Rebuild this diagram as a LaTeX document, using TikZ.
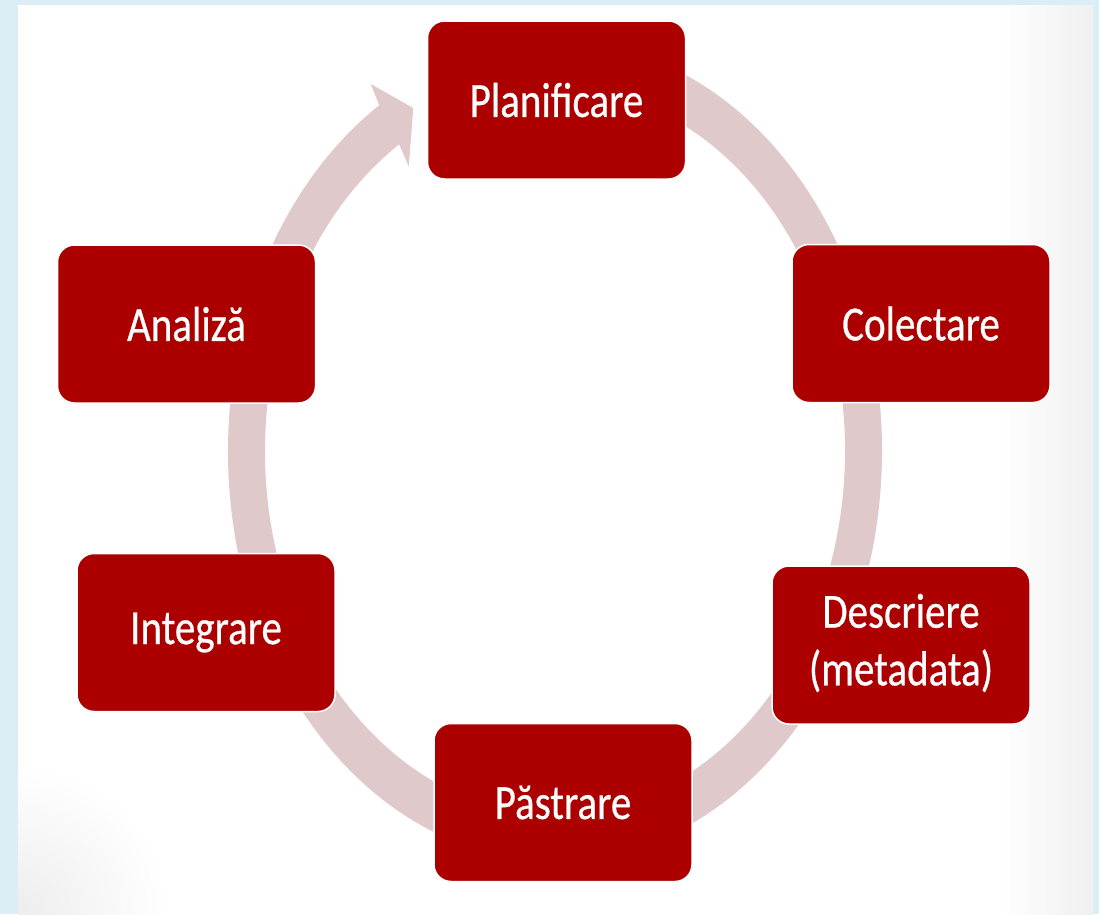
\documentclass[tikz,border=0pt]{standalone}
\usepackage{fontspec}
\setmainfont{Carlito}
\newfontfamily\stagefont[FakeBold=0.6]{Carlito}
\definecolor{bgblue}{HTML}{DCEEF5}
\definecolor{boxred}{HTML}{AC0000}
\definecolor{ringc}{HTML}{E0C9CA}
\begin{document}
\begin{tikzpicture}[x=1pt,y=-1pt,
  stage/.style={draw=white, line width=1.5pt, fill=boxred, rounded corners=17pt,
    minimum width=258pt, minimum height=158pt, text=white, inner sep=0pt,
    font=\stagefont\fontsize{41}{48}\selectfont}]
\fill[bgblue] (0,0) rectangle (1099,914);
\useasboundingbox (0,0) rectangle (1099,914);
\fill[white] (18,5) rectangle (1093,914);
% faint slide shadows
\shade[left color=white, right color=black!6] (1000,5) rectangle (1093,914);
\begin{scope}
\clip (18,5) rectangle (1093,914);
\shade[inner color=black!7, outer color=white] (18,914) circle (150);
\end{scope}
% cycle ring with arrow
\begin{scope}[shift={(555,451)}, yscale=1.254]
\fill[ringc] (275:327) arc[start angle=275, end angle=597.5, radius=327]
  -- (597.8:346) -- (602.6:308) -- (597.2:270)
  -- (597.5:290) arc[start angle=597.5, end angle=275, radius=290] -- cycle;
\end{scope}
% stages
\node[stage] (plan) at (556.5,100) {\scalebox{1}[1.2]{Planificare}};
\node[stage] (col) at (921,323.5) {\scalebox{1}[1.2]{Colectare}};
\node[stage] (desc) at (901,645) {\scalebox{1}[1.2]{\begin{tabular}{@{}c@{}}Descriere\\(metadata)\end{tabular}}};
\node[stage] (pas) at (563,802.5) {\scalebox{1}[1.2]{Păstrare}};
\node[stage] (int) at (206,632.5) {\scalebox{1}[1.2]{Integrare}};
\node[stage] (ana) at (186.5,324) {\scalebox{1}[1.2]{Analiză}};
\end{tikzpicture}
\end{document}
